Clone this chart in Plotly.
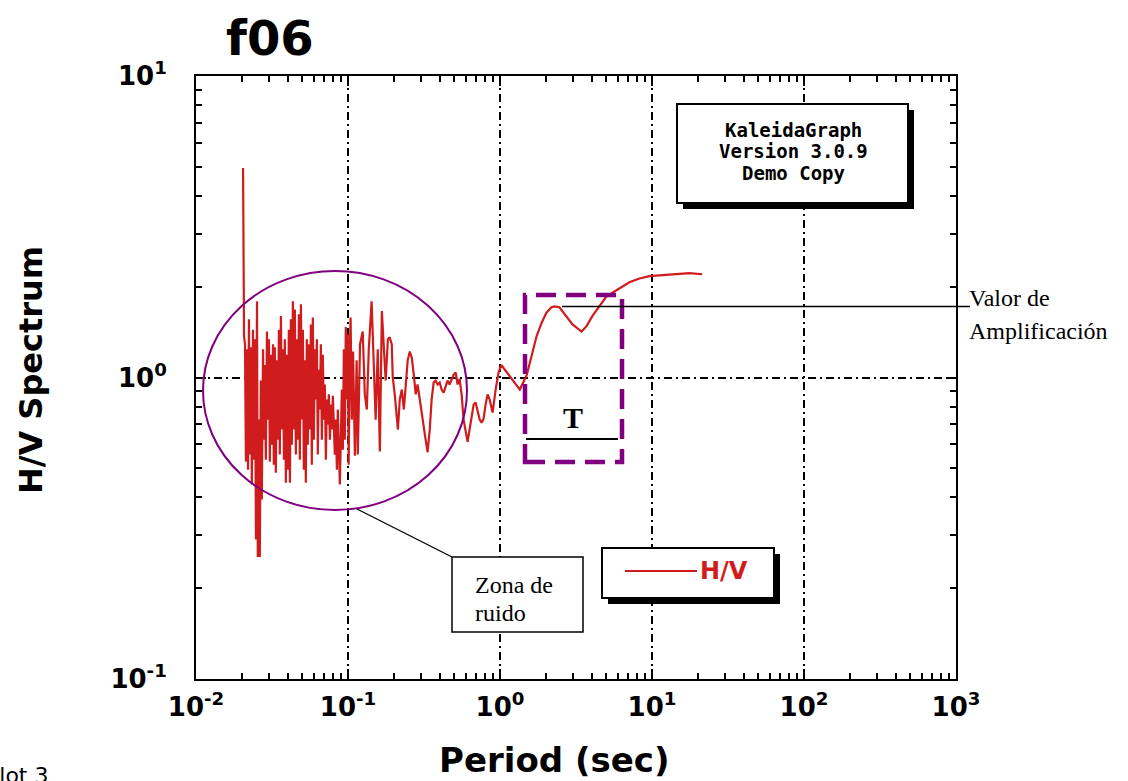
import plotly.graph_objects as go

# H/V spectral ratio versus period (s)
period = [
    0.0204, 0.0207, 0.0210, 0.0213, 0.0216, 0.0220, 0.0223, 0.0226, 0.0230, 0.0233,
    0.0237, 0.0240, 0.0244, 0.0248, 0.0252, 0.0255, 0.0259, 0.0263, 0.0267, 0.0271,
    0.0276, 0.0280, 0.0284, 0.0288, 0.0293, 0.0297, 0.0302, 0.0306, 0.0311, 0.0316,
    0.0321, 0.0325, 0.0330, 0.0335, 0.0341, 0.0346, 0.0351, 0.0356, 0.0362, 0.0367,
    0.0373, 0.0379, 0.0384, 0.0390, 0.0396, 0.0402, 0.0408, 0.0415, 0.0421, 0.0427,
    0.0434, 0.0440, 0.0447, 0.0454, 0.0461, 0.0468, 0.0475, 0.0482, 0.0490, 0.0497,
    0.0505, 0.0512, 0.0520, 0.0528, 0.0536, 0.0544, 0.0553, 0.0561, 0.0570, 0.0578,
    0.0587, 0.0596, 0.0605, 0.0614, 0.0624, 0.0633, 0.0643, 0.0653, 0.0663, 0.0673,
    0.0683, 0.0694, 0.0704, 0.0715, 0.0726, 0.0737, 0.0748, 0.0760, 0.0771, 0.0783,
    0.0795, 0.0819, 0.0832, 0.0845, 0.0857, 0.0884, 0.0911, 0.0925, 0.0939, 0.0953,
    0.0967, 0.0982, 0.0997, 0.101, 0.103, 0.104, 0.106, 0.108, 0.111, 0.114,
    0.116, 0.120, 0.125, 0.129, 0.133, 0.137, 0.143, 0.148, 0.152, 0.157,
    0.162, 0.167, 0.172, 0.177, 0.183, 0.188, 0.194, 0.197, 0.203, 0.209,
    0.213, 0.219, 0.226, 0.233, 0.240, 0.247, 0.255, 0.263, 0.271, 0.279,
    0.287, 0.296, 0.305, 0.315, 0.324, 0.334, 0.345, 0.355, 0.366, 0.377,
    0.389, 0.401, 0.413, 0.426, 0.439, 0.452, 0.466, 0.481, 0.495, 0.511,
    0.526, 0.542, 0.559, 0.576, 0.594, 0.612, 0.631, 0.651, 0.671, 0.691,
    0.712, 0.735, 0.757, 0.780, 0.804, 0.829, 0.855, 0.894, 0.936, 0.979,
    1.02, 1.11, 1.25, 1.35, 1.50, 1.61, 1.74, 1.88, 2.02, 2.18,
    2.29, 2.46, 2.74, 3.00, 3.44, 3.71, 4.06, 4.51, 5.02, 5.49,
    6.30, 7.10, 8.27, 9.61, 11.2, 13.6, 17.6, 21.4,
]
hv_ratio = [
    4.95, 1.37, 1.29, 0.526, 1.24, 0.494, 1.56, 0.555, 1.26, 0.442,
    1.44, 0.534, 1.34, 0.290, 1.79, 0.254, 0.725, 0.254, 0.977, 0.394,
    1.24, 0.622, 1.10, 0.534, 1.42, 0.725, 1.34, 0.526, 1.19, 0.598,
    1.29, 0.514, 1.26, 0.483, 1.14, 0.622, 1.44, 0.555, 1.60, 0.672,
    1.24, 0.534, 1.34, 0.448, 1.19, 0.494, 1.44, 0.448, 1.56, 0.598,
    1.79, 0.672, 1.68, 0.555, 1.34, 0.622, 1.62, 0.534, 1.75, 0.725,
    1.44, 0.494, 1.14, 0.448, 1.34, 0.598, 1.29, 0.672, 1.50, 0.514,
    1.58, 0.622, 1.24, 0.845, 1.34, 0.555, 1.06, 0.783, 1.29, 0.622,
    1.19, 0.725, 0.948, 0.534, 0.845, 0.698, 0.879, 0.622, 0.813, 0.672,
    0.870, 0.555, 0.725, 0.494, 0.783, 0.442, 0.912, 0.576, 1.24, 0.622,
    1.47, 0.845, 1.39, 0.514, 1.29, 1.58, 0.725, 1.22, 0.550, 1.14,
    0.555, 1.29, 1.42, 0.879, 0.783, 1.24, 1.79, 1.14, 0.725, 1.24,
    0.568, 1.66, 1.29, 0.977, 1.34, 1.36, 1.29, 1.00, 0.879, 0.754,
    0.672, 0.845, 0.912, 0.783, 0.977, 1.14, 1.22, 1.16, 1.02, 0.879,
    0.948, 0.845, 0.765, 0.698, 0.622, 0.565, 0.672, 0.845, 0.962, 0.977,
    0.948, 0.962, 0.912, 0.891, 0.930, 0.977, 0.948, 0.990, 1.02, 1.04,
    0.948, 0.990, 0.879, 0.725, 0.656, 0.612, 0.672, 0.754, 0.813, 0.826,
    0.783, 0.725, 0.708, 0.730, 0.813, 0.879, 0.845, 0.765, 0.912, 1.04,
    1.10, 1.04, 0.962, 0.912, 1.02, 1.17, 1.37, 1.52, 1.64, 1.71,
    1.72, 1.71, 1.60, 1.50, 1.42, 1.48, 1.60, 1.72, 1.86, 1.91,
    1.99, 2.07, 2.13, 2.17, 2.18, 2.20, 2.22, 2.20,
]

x_tickvals = [1e-2, 1e-1, 1e0, 1e1, 1e2, 1e3]
x_ticktext = ["10<sup>-2</sup>", "10<sup>-1</sup>", "10<sup>0</sup>",
              "10<sup>1</sup>", "10<sup>2</sup>", "10<sup>3</sup>"]
y_tickvals = [1e-1, 1e0, 1e1]
y_ticktext = ["10<sup>-1</sup>", "10<sup>0</sup>", "10<sup>1</sup>"]

x_minor = [m * 10.0 ** e for e in range(-2, 3) for m in range(2, 10)]
y_minor = [m * 10.0 ** e for e in range(-1, 1) for m in range(2, 10)]

# page geometry (pixels) and conversion to paper coordinates
W, H = 1128, 781
PL, PR, PT, PB = 196, 956, 76, 679


def fx(p):
    return (p - PL) / (PR - PL)


def fy(p):
    return (PB - p) / (PB - PT)


CURVE = "#d01c1c"
PURPLE = "#800080"
SANS = "DejaVu Sans"
SERIF = "Liberation Serif"

# amplification peak of the fundamental period (1–4 s band)
band = [(a, t) for t, a in zip(period, hv_ratio) if 1.0 <= t <= 4.0]
peak_amp, peak_t = max(band)

fig = go.Figure()
fig.add_trace(go.Scatter(
    x=period, y=hv_ratio, mode="lines", name="H/V",
    line=dict(color=CURVE, width=2.2), showlegend=False,
))


def axis(tickvals, ticktext, minor_vals, rng, standoff):
    return dict(
        type="log", range=rng, showline=True, linecolor="black", linewidth=2,
        mirror="ticks", ticks="inside", ticklen=10, tickwidth=1.5, tickcolor="black",
        tickmode="array", tickvals=tickvals, ticktext=ticktext,
        tickfont=dict(family=SANS, size=26, color="black", weight="bold"),
        ticklabelstandoff=standoff,
        showgrid=True, gridcolor="black", gridwidth=1.5, griddash="8px,4px,2px,4px",
        zeroline=False,
        minor=dict(tickmode="array", tickvals=minor_vals, ticks="inside",
                   ticklen=6, tickwidth=1.5, tickcolor="black", showgrid=False),
    )


shapes = [
    # noise zone
    dict(type="circle", xref="paper", yref="paper",
         x0=fx(203), x1=fx(467), y0=fy(510), y1=fy(271),
         line=dict(color=PURPLE, width=2)),
    dict(type="line", xref="paper", yref="paper",
         x0=fx(357), y0=fy(509), x1=fx(452), y1=fy(557),
         line=dict(color="black", width=1.3)),
    dict(type="rect", xref="paper", yref="paper",
         x0=fx(452), x1=fx(583), y0=fy(632), y1=fy(557),
         fillcolor="white", line=dict(color="black", width=1.5)),
    # fundamental period window
    dict(type="rect", xref="paper", yref="paper",
         x0=fx(525), x1=fx(622), y0=fy(462), y1=fy(295),
         line=dict(color=PURPLE, width=4.5, dash="20px,10px")),
    dict(type="line", xref="paper", yref="paper",
         x0=fx(526), x1=fx(618), y0=fy(439), y1=fy(439),
         line=dict(color="black", width=2)),
    # amplification level, drawn at the peak value
    dict(type="line", xref="paper", yref="y",
         x0=fx(562), x1=fx(970), y0=peak_amp, y1=peak_amp,
         line=dict(color="black", width=1.5)),
    # program stamp box
    dict(type="rect", xref="paper", yref="paper",
         x0=fx(683), x1=fx(914), y0=fy(209), y1=fy(110),
         fillcolor="black", line=dict(width=0)),
    dict(type="rect", xref="paper", yref="paper",
         x0=fx(677), x1=fx(908), y0=fy(203), y1=fy(104),
         fillcolor="white", line=dict(color="black", width=2)),
    # key box
    dict(type="rect", xref="paper", yref="paper",
         x0=fx(608), x1=fx(780), y0=fy(604), y1=fy(554),
         fillcolor="black", line=dict(width=0)),
    dict(type="rect", xref="paper", yref="paper",
         x0=fx(602), x1=fx(774), y0=fy(598), y1=fy(548),
         fillcolor="white", line=dict(color="black", width=2)),
    dict(type="line", xref="paper", yref="paper",
         x0=fx(625), x1=fx(697), y0=fy(571), y1=fy(571),
         line=dict(color=CURVE, width=2)),
]


def note(text, x, y, size, family, xanchor="center", color="black", weight="normal", angle=0):
    return dict(text=text, xref="paper", yref="paper", x=fx(x), y=fy(y),
                xanchor=xanchor, yanchor="middle", showarrow=False, textangle=angle,
                font=dict(family=family, size=size, color=color, weight=weight))


annotations = [
    note("f06", 224, 38, 48, SANS, xanchor="left", weight="bold"),
    note("H/V Spectrum", 31, 370, 32, SANS, weight="bold", angle=-90),
    note("Period (sec)", 554, 760, 34, SANS, weight="bold"),
    note("Plot 3", -16, 775, 22, SANS, xanchor="left"),
    note("KaleidaGraph", 793, 130, 19, "DejaVu Sans Mono", weight="bold"),
    note("Version 3.0.9", 793, 151, 19, "DejaVu Sans Mono", weight="bold"),
    note("Demo Copy", 793, 173, 19, "DejaVu Sans Mono", weight="bold"),
    note("H/V", 698, 571, 24, SANS, xanchor="left", color=CURVE, weight="bold"),
    note("T", 573, 417, 30, SERIF, weight="bold"),
    note("Zona de", 473, 585, 24, SERIF, xanchor="left"),
    note("ruido", 473, 613, 24, SERIF, xanchor="left"),
    note("Valor de", 967, 298, 24, SERIF, xanchor="left"),
    note("Amplificación", 967, 331, 24, SERIF, xanchor="left"),
]

fig.update_layout(
    width=W, height=H,
    margin=dict(l=PL, r=W - PR, t=PT, b=H - PB),
    paper_bgcolor="white", plot_bgcolor="white",
    showlegend=False,
    xaxis=axis(x_tickvals, x_ticktext, x_minor, [-2, 3], 4),
    yaxis=axis(y_tickvals, y_ticktext, y_minor, [-1, 1], 22),
    shapes=shapes,
    annotations=annotations,
)

fig.write_html("out.html")
